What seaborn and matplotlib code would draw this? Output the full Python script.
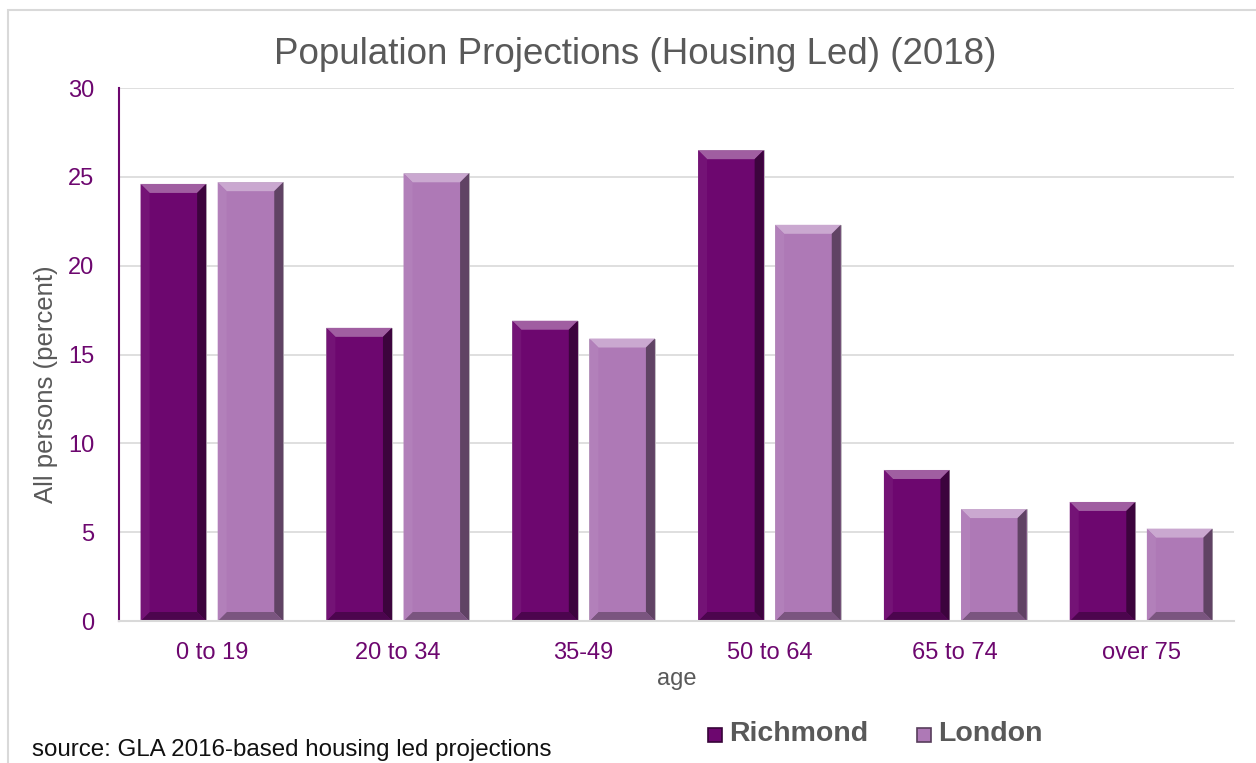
import matplotlib
matplotlib.use("Agg")
import matplotlib.pyplot as plt
import matplotlib.colors as mcolors
from matplotlib.patches import Polygon, Rectangle
import pandas as pd
import seaborn as sns

# data
ages = ['0 to 19', '20 to 34', '35-49', '50 to 64', '65 to 74', 'over 75']
richmond = [24.6, 16.5, 16.9, 26.5, 8.5, 6.7]
london = [24.7, 25.2, 15.9, 22.3, 6.3, 5.2]
areas = ['Richmond', 'London']
colours = ['#6D076F', '#AE79B6']

df = pd.DataFrame({
    'age': ages * 2,
    'value': richmond + london,
    'area': ['Richmond'] * len(ages) + ['London'] * len(ages),
})

sns.set_theme(style='white')
plt.rcParams['font.family'] = ['Liberation Sans', 'DejaVu Sans']

fig = plt.figure(figsize=(12.56, 7.63), dpi=100)
ax = fig.add_axes([119 / 1256, 1 - 621 / 763, (1234 - 119) / 1256, (621 - 88) / 763])

sns.barplot(data=df, x='age', y='value', hue='area', palette=colours,
            width=0.83, gap=0.15, ax=ax, legend=False, saturation=1)

ax.set_ylim(0, 30)
ax.set_yticks(range(0, 31, 5))
ax.yaxis.grid(True, color='#D9D9D9', linewidth=1.2)
ax.set_axisbelow(True)

for s in ['top', 'right']:
    ax.spines[s].set_visible(False)
ax.spines['left'].set_color('#6D076F')
ax.spines['left'].set_linewidth(1.5)
ax.spines['bottom'].set_color('#D9D9D9')
ax.spines['bottom'].set_linewidth(1.5)

ax.tick_params(axis='both', colors='#6D076F', labelsize=17, length=0, pad=15)
ax.tick_params(axis='y', pad=18)
ax.set_xlabel('age', fontsize=17, color='#595959', labelpad=3)
ax.set_ylabel('All persons (percent)', fontsize=18.5, color='#595959')
ax.yaxis.set_label_coords(-0.055, 0.445)
fig.text(635 / 1256, 1 - 54 / 763, 'Population Projections (Housing Led) (2018)',
         fontsize=26.5, color='#595959', ha='center', va='center')


# bevel shading on each bar, sized in pixels
def shade(c, f):
    r, g, b = mcolors.to_rgb(c)
    if f > 0:
        return (r + (1 - r) * f, g + (1 - g) * f, b + (1 - b) * f)
    return (r * (1 + f), g * (1 + f), b * (1 + f))


fig.canvas.draw()
inv = ax.transData.inverted()
for p in list(ax.patches):
    x0, w, h = p.get_x(), p.get_width(), p.get_height()
    if h <= 0:
        continue
    c = p.get_facecolor()
    px0, py0 = ax.transData.transform((x0, 0))
    px1, py1 = ax.transData.transform((x0 + w, h))
    d = 9
    top = [(px0, py1), (px1, py1), (px1 - d, py1 - d), (px0 + d, py1 - d)]
    right = [(px1, py1), (px1, py0), (px1 - d, py0 + d), (px1 - d, py1 - d)]
    bottom = [(px0, py0), (px1, py0), (px1 - d, py0 + d), (px0 + d, py0 + d)]
    left = [(px0, py0), (px0, py1), (px0 + d, py1 - d), (px0 + d, py0 + d)]
    for pts, f in [(top, 0.35), (right, -0.45), (bottom, -0.3), (left, 0.05)]:
        ax.add_patch(Polygon(inv.transform(pts), closed=True, facecolor=shade(c, f),
                             edgecolor='none', zorder=p.get_zorder() + 0.1))
    p.set_edgecolor('#BFBFBF')
    p.set_linewidth(0.6)

# legend drawn as figure text with small bevelled squares
for i, (name, col) in enumerate(zip(areas, colours)):
    lx = [708, 917][i]
    fig.patches.append(Rectangle((lx / 1256, 1 - 742 / 763), 14 / 1256, 14 / 763,
                                 transform=fig.transFigure, facecolor=col,
                                 edgecolor=shade(col, -0.5), linewidth=1.2))
    fig.text((lx + 21) / 1256, 1 - 734 / 763, name, fontsize=20.5, fontweight='bold',
             color='#595959', ha='left', va='center')

fig.text(32 / 1256, 1 - 750 / 763, 'source: GLA 2016-based housing led projections',
         fontsize=17.4, color='#111111', ha='left', va='center')

# light frame around the chart area
fig.patches.append(Rectangle((8 / 1256, -0.05), 1.2, 1 - 10 / 763 + 0.05,
                             transform=fig.transFigure, fill=False,
                             edgecolor='#D9D9D9', linewidth=1.5))

fig.savefig('out.png', dpi=100)
